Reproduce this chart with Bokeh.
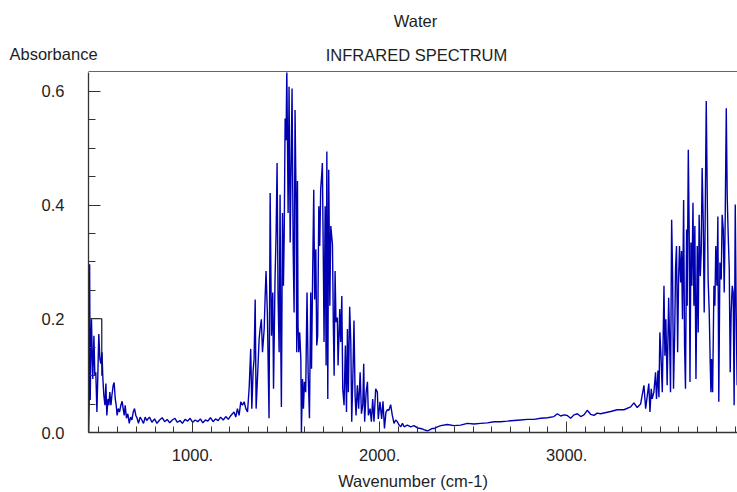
from bokeh.plotting import figure
from bokeh.models import Range1d, FixedTicker
from bokeh.layouts import column
from bokeh.core.properties import value
from bokeh.embed import file_html
from bokeh.resources import INLINE

# ---- data (wavenumber cm-1, absorbance) ----
wavenumber_low = [445, 448, 450, 453, 457, 460, 464, 467, 473, 478, 483, 489, 494, 499, 505,
                  510, 516, 521, 526, 532, 537, 542, 548, 553, 558, 564, 569, 576, 581, 587,
                  592, 597, 603, 610, 617, 624, 629, 635, 640, 647, 654, 662, 669, 676, 683,
                  690, 697, 704, 711, 720, 729, 738, 747, 755, 770, 783, 797, 810, 824, 838,
                  851, 865, 878, 892, 906, 919, 933, 946, 960, 974, 987, 1001, 1014, 1028,
                  1042, 1055, 1069, 1082, 1096, 1110, 1123, 1137, 1150, 1164, 1178, 1191,
                  1205, 1222, 1231, 1240, 1249, 1258, 1267, 1276, 1285, 1294]
absorbance_low = [0.0, 0.060, 0.296, 0.057, 0.150, 0.199, 0.130, 0.094, 0.170, 0.100, 0.106,
                  0.036, 0.103, 0.173, 0.129, 0.121, 0.141, 0.094, 0.065, 0.048, 0.086, 0.030,
                  0.059, 0.048, 0.071, 0.048, 0.065, 0.083, 0.088, 0.059, 0.048, 0.030, 0.042,
                  0.036, 0.048, 0.055, 0.042, 0.030, 0.048, 0.025, 0.033, 0.016, 0.027, 0.022,
                  0.036, 0.042, 0.030, 0.025, 0.016, 0.027, 0.022, 0.016, 0.027, 0.021, 0.027,
                  0.018, 0.024, 0.016, 0.022, 0.026, 0.019, 0.023, 0.017, 0.022, 0.025, 0.018,
                  0.021, 0.016, 0.023, 0.020, 0.025, 0.018, 0.022, 0.019, 0.024, 0.017, 0.022,
                  0.020, 0.026, 0.019, 0.024, 0.021, 0.027, 0.022, 0.028, 0.023, 0.030, 0.036,
                  0.027, 0.042, 0.030, 0.054, 0.048, 0.054, 0.042, 0.036]

wavenumber_bend = [1303, 1311, 1317, 1324, 1329, 1335, 1340, 1347, 1356, 1361, 1368, 1374,
                   1383, 1388, 1393, 1400, 1409, 1415, 1422, 1429, 1433, 1441, 1447, 1452,
                   1457, 1463, 1468, 1472, 1475, 1481, 1486, 1490, 1495, 1500, 1504, 1511,
                   1516, 1522, 1527, 1532, 1538, 1543, 1548, 1554, 1557, 1561, 1564, 1568,
                   1573, 1579, 1582, 1588, 1593, 1598, 1605, 1612, 1618, 1625, 1632, 1636,
                   1643, 1648, 1653, 1659, 1664, 1669, 1675, 1680, 1685, 1691, 1694, 1700,
                   1703, 1709, 1714, 1718, 1723, 1728, 1734, 1739, 1748, 1753, 1757, 1762,
                   1767, 1774, 1778, 1787, 1792, 1798, 1803, 1810, 1817, 1823, 1828, 1833,
                   1840, 1846, 1851, 1858, 1863, 1869, 1874, 1881, 1888, 1896, 1903, 1910,
                   1915, 1920, 1928, 1935, 1940, 1949, 1956, 1963, 1970, 1979, 1988, 1993,
                   2002, 2011, 2018, 2026, 2034, 2042, 2050, 2059, 2068, 2077, 2086, 2095]
absorbance_bend = [0.080, 0.147, 0.042, 0.109, 0.129, 0.234, 0.042, 0.094, 0.164, 0.182,
                   0.199, 0.141, 0.182, 0.237, 0.284, 0.211, 0.025, 0.421, 0.170, 0.246,
                   0.077, 0.269, 0.354, 0.474, 0.246, 0.141, 0.418, 0.147, 0.045, 0.386,
                   0.258, 0.345, 0.552, 0.514, 0.640, 0.386, 0.608, 0.334, 0.468, 0.605,
                   0.322, 0.211, 0.567, 0.398, 0.141, 0.442, 0.188, 0.141, 0.176, 0.129,
                   0.0, 0.094, 0.042, 0.089, 0.071, 0.246, 0.106, 0.025, 0.246, 0.112,
                   0.302, 0.427, 0.234, 0.322, 0.153, 0.170, 0.398, 0.328, 0.427, 0.456,
                   0.474, 0.275, 0.159, 0.398, 0.118, 0.494, 0.059, 0.462, 0.223, 0.363,
                   0.331, 0.182, 0.100, 0.284, 0.194, 0.202, 0.118, 0.217, 0.159, 0.240,
                   0.077, 0.048, 0.153, 0.036, 0.182, 0.071, 0.221, 0.159, 0.019, 0.112,
                   0.197, 0.065, 0.030, 0.083, 0.042, 0.106, 0.033, 0.048, 0.121, 0.019,
                   0.071, 0.089, 0.030, 0.042, 0.019, 0.059, 0.019, 0.077, 0.071, 0.024,
                   0.054, 0.024, 0.055, 0.007, 0.036, 0.040, 0.039, 0.049, 0.030, 0.016,
                   0.022, 0.019]

wavenumber_mid = [2104, 2113, 2122, 2131, 2148, 2166, 2184, 2202, 2220, 2237, 2246, 2255,
                  2264, 2280, 2291, 2309, 2327, 2362, 2398, 2433, 2469, 2505, 2540, 2576,
                  2612, 2647, 2683, 2718, 2754, 2790, 2826, 2861, 2897, 2932, 2950, 2968,
                  2986, 3003, 3021, 3039, 3057, 3075, 3092, 3110, 3128, 3146, 3163]
absorbance_mid = [0.013, 0.010, 0.016, 0.010, 0.013, 0.010, 0.012, 0.008, 0.007, 0.005,
                  0.004, 0.003, 0.004, 0.007, 0.007, 0.010, 0.012, 0.014, 0.012, 0.013,
                  0.016, 0.015, 0.016, 0.017, 0.019, 0.019, 0.020, 0.021, 0.022, 0.023,
                  0.023, 0.025, 0.026, 0.028, 0.033, 0.029, 0.031, 0.030, 0.025, 0.031,
                  0.033, 0.028, 0.031, 0.039, 0.032, 0.030, 0.034]

wavenumber_stretch = [3181, 3235, 3270, 3306, 3342, 3359, 3377, 3395, 3413, 3422, 3439, 3445,
                      3452, 3457, 3466, 3475, 3480, 3488, 3493, 3498, 3504, 3511, 3520, 3525,
                      3530, 3537, 3545, 3550, 3555, 3561, 3566, 3571, 3577, 3582, 3587, 3593,
                      3598, 3603, 3609, 3614, 3619, 3625, 3630, 3635, 3641, 3644, 3650, 3655,
                      3659, 3664, 3669, 3675, 3680, 3685, 3691, 3698, 3703, 3708, 3714, 3719,
                      3724, 3730, 3735, 3740, 3746, 3751, 3756, 3762, 3767, 3771, 3774, 3780,
                      3787, 3792, 3797, 3803, 3808, 3813, 3819, 3826, 3831, 3837, 3842, 3847,
                      3853, 3858, 3863, 3869, 3874, 3879, 3885, 3890, 3895, 3901, 3906, 3911]
absorbance_stretch = [0.033, 0.037, 0.040, 0.040, 0.045, 0.052, 0.044, 0.050, 0.083, 0.042,
                      0.086, 0.036, 0.077, 0.059, 0.071, 0.106, 0.059, 0.109, 0.062, 0.176,
                      0.135, 0.071, 0.258, 0.135, 0.199, 0.083, 0.237, 0.167, 0.071, 0.374,
                      0.281, 0.077, 0.170, 0.290, 0.328, 0.141, 0.269, 0.328, 0.264, 0.319,
                      0.199, 0.409, 0.153, 0.077, 0.357, 0.223, 0.497, 0.345, 0.089, 0.334,
                      0.258, 0.404, 0.223, 0.363, 0.094, 0.328, 0.176, 0.383, 0.275, 0.316,
                      0.465, 0.369, 0.211, 0.369, 0.583, 0.427, 0.269, 0.211, 0.124, 0.071,
                      0.129, 0.071, 0.258, 0.223, 0.328, 0.258, 0.380, 0.054, 0.299, 0.269,
                      0.383, 0.357, 0.246, 0.369, 0.570, 0.415, 0.351, 0.287, 0.106, 0.211,
                      0.258, 0.246, 0.048, 0.401, 0.211, 0.083]

box_x = [444, 515, 515]
box_y = [0.2, 0.2, 0.1]

x_major = [1000, 2000, 3000]
x_tick_labels = ["1000.", "2000.", "3000."]
x_minor = [v for v in range(500, 4000, 100) if v not in x_major]
y_major = [0.0, 0.2, 0.4, 0.6]
y_tick_labels = ["0.0", "0.2", "0.4", "0.6"]
y_minor = [0.05, 0.1, 0.15, 0.25, 0.3, 0.35, 0.45, 0.5, 0.55]

chart_title = "Water"
chart_subtitle = "INFRARED SPECTRUM"
y_title = "Absorbance"
x_title = "Wavenumber (cm-1)"

wavenumber = wavenumber_low + wavenumber_bend + wavenumber_mid + wavenumber_stretch
absorbance = absorbance_low + absorbance_bend + absorbance_mid + absorbance_stretch

FONT = "Liberation Sans"
FS = "16.5px"
TXT = "#1e1e1e"
AX = "#333333"
W, H = 737, 492
HEAD = 72          # height of the header strip above the plot frame
LEFT = 88          # left border of the plot frame

# ---- header strip: titles, y-axis caption and the frame's top border ----
head = figure(width=W, height=HEAD, output_backend="svg", toolbar_location=None,
              x_range=Range1d(0, W), y_range=Range1d(HEAD, 0),
              x_axis_type=None, y_axis_type=None,
              min_border=0, border_fill_color="white")
head.frame_align = False
head.outline_line_color = None
head.grid.visible = False
head.text(x=[415], y=[20], text=[chart_title], text_font=value(FONT),
          text_font_size=value(FS), text_color=TXT, text_align="center",
          text_baseline="alphabetic")
head.text(x=[416], y=[54.5], text=[chart_subtitle], text_font=value(FONT),
          text_font_size=value(FS), text_color=TXT, text_align="center",
          text_baseline="alphabetic")
head.text(x=[9], y=[53], text=[y_title], text_font=value(FONT),
          text_font_size=value(FS), text_color=TXT, text_align="left",
          text_baseline="alphabetic")
head.segment(x0=[LEFT], y0=[HEAD - 0.5], x1=[W], y1=[HEAD - 0.5],
             line_color=AX, line_width=1.3)

# ---- main plot ----
p = figure(width=W, height=H - HEAD, output_backend="svg", toolbar_location=None,
           x_range=Range1d(444, 3913), y_range=Range1d(0, 0.633),
           min_border_left=LEFT, min_border_right=0, min_border_top=0,
           min_border_bottom=58, background_fill_color="white",
           border_fill_color="white")
p.frame_align = False
p.outline_line_color = None
p.grid.visible = False

p.line(wavenumber, absorbance, line_color="#0000b0", line_width=1.4)
p.line(box_x, box_y, line_color="#111133", line_width=1.2)

xa = p.xaxis[0]
xa.ticker = FixedTicker(ticks=x_major, minor_ticks=x_minor)
xa.major_label_overrides = dict(zip(x_major, x_tick_labels))
xa.major_tick_in = 11
xa.major_tick_out = 0
xa.minor_tick_in = 6
xa.minor_tick_out = 0
xa.axis_line_color = AX
xa.axis_line_width = 1.3
xa.major_tick_line_color = AX
xa.minor_tick_line_color = AX
xa.major_label_text_font = FONT
xa.major_label_text_font_size = FS
xa.major_label_text_color = TXT
xa.major_label_text_line_height = 1.0
xa.major_label_standoff = 16
xa.axis_label = x_title
xa.axis_label_text_font = FONT
xa.axis_label_text_font_size = FS
xa.axis_label_text_font_style = "normal"
xa.axis_label_text_color = TXT
xa.axis_label_text_line_height = 1.0
xa.axis_label_standoff = 8

ya = p.yaxis[0]
ya.ticker = FixedTicker(ticks=y_major, minor_ticks=y_minor)
ya.major_label_overrides = dict(zip(y_major, y_tick_labels))
ya.major_tick_in = 12
ya.major_tick_out = 0
ya.minor_tick_in = 7
ya.minor_tick_out = 0
ya.axis_line_color = AX
ya.axis_line_width = 1.3
ya.major_tick_line_color = AX
ya.minor_tick_line_color = AX
ya.major_label_text_font = FONT
ya.major_label_text_font_size = FS
ya.major_label_text_color = TXT
ya.major_label_standoff = 24

layout = column(head, p, spacing=0)
open("out.html", "w").write(file_html(layout, INLINE))
